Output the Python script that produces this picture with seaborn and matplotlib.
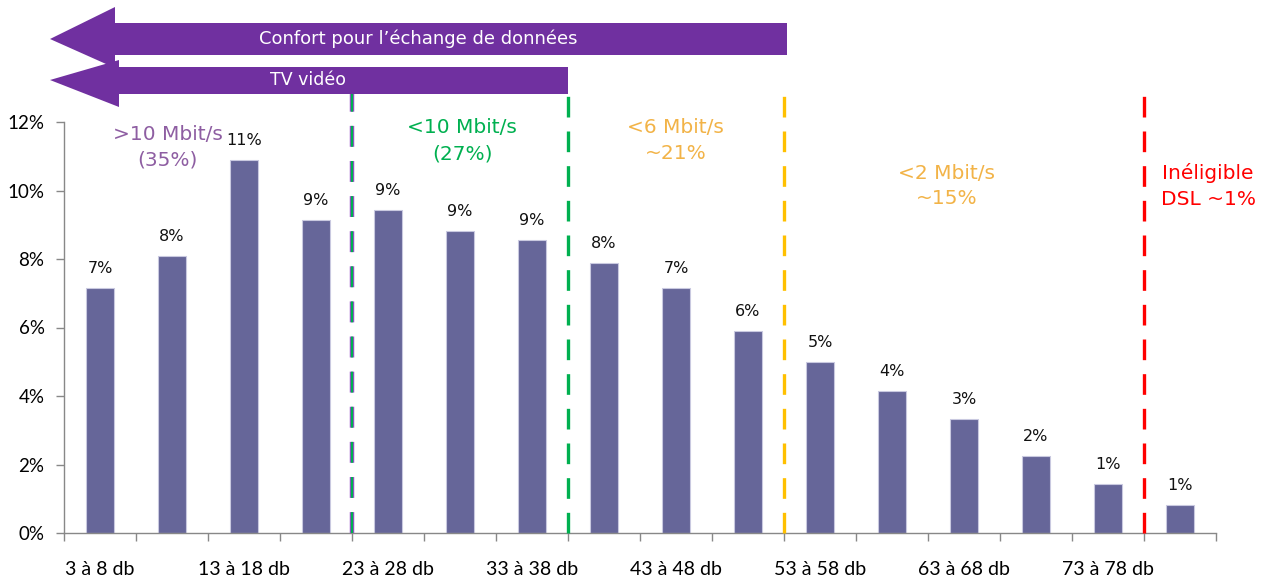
import matplotlib
matplotlib.use("Agg")
import matplotlib.pyplot as plt
import seaborn as sns
import pandas as pd
from matplotlib.patches import Polygon

# data
categories = ["3 à 8 db", "8 à 13 db", "13 à 18 db", "18 à 23 db", "23 à 28 db",
              "28 à 33 db", "33 à 38 db", "38 à 43 db", "43 à 48 db", "48 à 53 db",
              "53 à 58 db", "58 à 63 db", "63 à 68 db", "68 à 73 db", "73 à 78 db",
              "78 à 83 db"]
shares = [7.15, 8.08, 10.88, 9.13, 9.42, 8.82, 8.55, 7.88, 7.15, 5.9,
          4.98, 4.15, 3.32, 2.25, 1.42, 0.82]
bar_labels = ["7%", "8%", "11%", "9%", "9%", "9%", "9%", "8%", "7%", "6%",
              "5%", "4%", "3%", "2%", "1%", "1%"]
y_ticks = [0, 2, 4, 6, 8, 10, 12]

# zone separators (between bars) and zone labels
sep_pos = [3.5, 6.5, 9.5, 14.5]
sep_colors = ["#00B050", "#00B050", "#FFC000", "#FF0000"]
zone_texts = [">10 Mbit/s\n(35%)", "<10 Mbit/s\n(27%)", "<6 Mbit/s\n~21%",
              "<2 Mbit/s\n~15%", "Inéligible\nDSL ~1%"]
zone_x = [0.94, 5.03, 7.99, 11.76, 15.39]
zone_y = [11.27, 11.45, 11.45, 10.13, 10.13]
zone_colors = ["#8E5EA2", "#00B050", "#F2B347", "#F2B347", "#FF0000"]

W, H = 1274, 581
fig = plt.figure(figsize=(W / 100, H / 100), dpi=100)
ax = fig.add_axes([64 / W, (H - 533) / H, (1216 - 64) / W, (533 - 122) / H])

df = pd.DataFrame({"cat": categories, "val": shares})
sns.barplot(data=df, x="cat", y="val", order=categories, color="#666699",
            saturation=1, width=0.39, edgecolor="#C9C9E0", linewidth=0.8, ax=ax)

for i, (v, lab) in enumerate(zip(shares, bar_labels)):
    ax.annotate(lab, (i, v), xytext=(0, 14), textcoords="offset points",
                ha="center", va="center", fontsize=11.5, color="#111111",
                family="DejaVu Sans")

ax.set_xlim(-0.5, len(categories) - 0.5)
ax.set_ylim(0, 12)
ax.set_yticks(y_ticks)
ax.set_yticklabels([f"{t}%" for t in y_ticks], fontsize=13.5, family="Lato")
ax.set_xticks(range(0, len(categories), 2))
ax.set_xticklabels(categories[::2], fontsize=14, family="Lato")
ax.set_xticks([i - 0.5 for i in range(len(categories) + 1)], minor=True)
ax.tick_params(axis="x", which="major", length=0, pad=20)
ax.tick_params(axis="x", which="minor", length=6, color="#888888", width=1)
ax.tick_params(axis="y", length=6, color="#888888", width=1, pad=8)
ax.set_xlabel("")
ax.set_ylabel("")
for s in ["top", "right"]:
    ax.spines[s].set_visible(False)
for s in ["left", "bottom"]:
    ax.spines[s].set_color("#888888")
    ax.spines[s].set_linewidth(1)
ax.set_facecolor("white")

# dashed separators
for k, (xp, c) in enumerate(zip(sep_pos, sep_colors)):
    if k == 0:
        ax.vlines(xp, 0, 13.1, color="#9B4DCA", lw=3.2, linestyles=(0, (4.7, 3.2)),
                  clip_on=False, zorder=4)
        ax.vlines(xp, 0, 13.1, color=c, lw=1.6, linestyles=(0, (9.4, 6.4)),
                  clip_on=False, zorder=5)
    else:
        ax.vlines(xp, 0, 13.1, color=c, lw=2.4, linestyles=(0, (6.2, 4.2)),
                  clip_on=False, zorder=5)

for t, xz, yz, c in zip(zone_texts, zone_x, zone_y, zone_colors):
    ax.text(xz, yz, t, ha="center", va="center", color=c, fontsize=14.5,
            family="DejaVu Sans", linespacing=1.45)

# purple arrows at top (figure pixel coordinates)
def px(x, y):
    return (x / W, 1 - y / H)

arrow_col = "#7030A0"
arr1 = [(50, 39), (115, 7), (115, 23), (787, 23), (787, 55), (115, 55), (115, 68)]
arr2 = [(50, 80), (119, 60), (119, 67), (568, 67), (568, 94), (119, 94), (119, 107)]
for pts in (arr1, arr2):
    fig.patches.append(Polygon([px(*p) for p in pts], closed=True,
                               transform=fig.transFigure, facecolor=arrow_col,
                               edgecolor="none"))
fig.text(*px(418, 39), "Confort pour l’échange de données", color="white",
         fontsize=13, ha="center", va="center", family="DejaVu Sans")
fig.text(*px(308, 80), "TV vidéo", color="white", fontsize=12.5,
         ha="center", va="center", family="DejaVu Sans")

fig.savefig("out.png", dpi=100, facecolor="white")
